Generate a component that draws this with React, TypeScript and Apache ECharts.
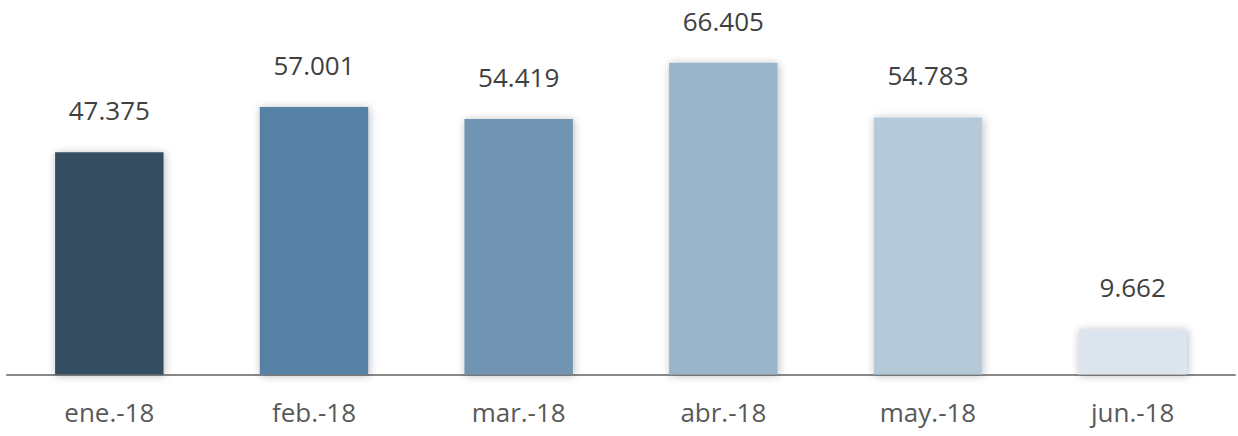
import React, { useEffect, useRef } from "react";
import * as echarts from "echarts";

const categories = ["ene.-18", "feb.-18", "mar.-18", "abr.-18", "may.-18", "jun.-18"];
const values = [47.375, 57.001, 54.419, 66.405, 54.783, 9.662];
const labels = ["47.375", "57.001", "54.419", "66.405", "54.783", "9.662"];
const barColors = ["#364D61", "#5681A5", "#6F94B2", "#9AB4C9", "#B6C9D8", "#DCE5ED"];

export default function App() {
  const ref = useRef<HTMLDivElement>(null);
  useEffect(() => {
    if (!ref.current) return;
    const chart = echarts.init(ref.current, null, { renderer: "svg" });
    chart.setOption({
      animation: false,
      grid: { left: 7, right: 3, top: 46, bottom: 61.5, containLabel: false },
      xAxis: {
        type: "category",
        data: categories,
        axisLine: { lineStyle: { color: "#898989", width: 2 } },
        axisTick: { show: false },
        axisLabel: {
          color: "#595959",
          fontSize: 26,
          fontFamily: "Open Sans",
          margin: 24,
        },
      },
      yAxis: {
        type: "value",
        min: 0,
        max: 70,
        show: false,
        splitLine: { show: false },
      },
      series: [
        {
          type: "bar",
          barWidth: "53%",
          data: values.map((v, i) => ({
            value: v,
            itemStyle: {
              color: barColors[i],
              shadowBlur: 8,
              shadowColor: "rgba(0,0,0,0.28)",
              shadowOffsetX: 1,
              shadowOffsetY: 1,
            },
          })),
          label: {
            show: true,
            position: "top",
            distance: 29,
            color: "#404040",
            fontSize: 26,
            fontFamily: "Open Sans",
            formatter: (p: any) => labels[p.dataIndex],
          },
        },
      ],
    });
    return () => chart.dispose();
  }, []);
  return (
    <div
      ref={ref}
      style={{ position: "absolute", left: 0, top: 0, width: 1238, height: 436, background: "#fff" }}
    />
  );
}
